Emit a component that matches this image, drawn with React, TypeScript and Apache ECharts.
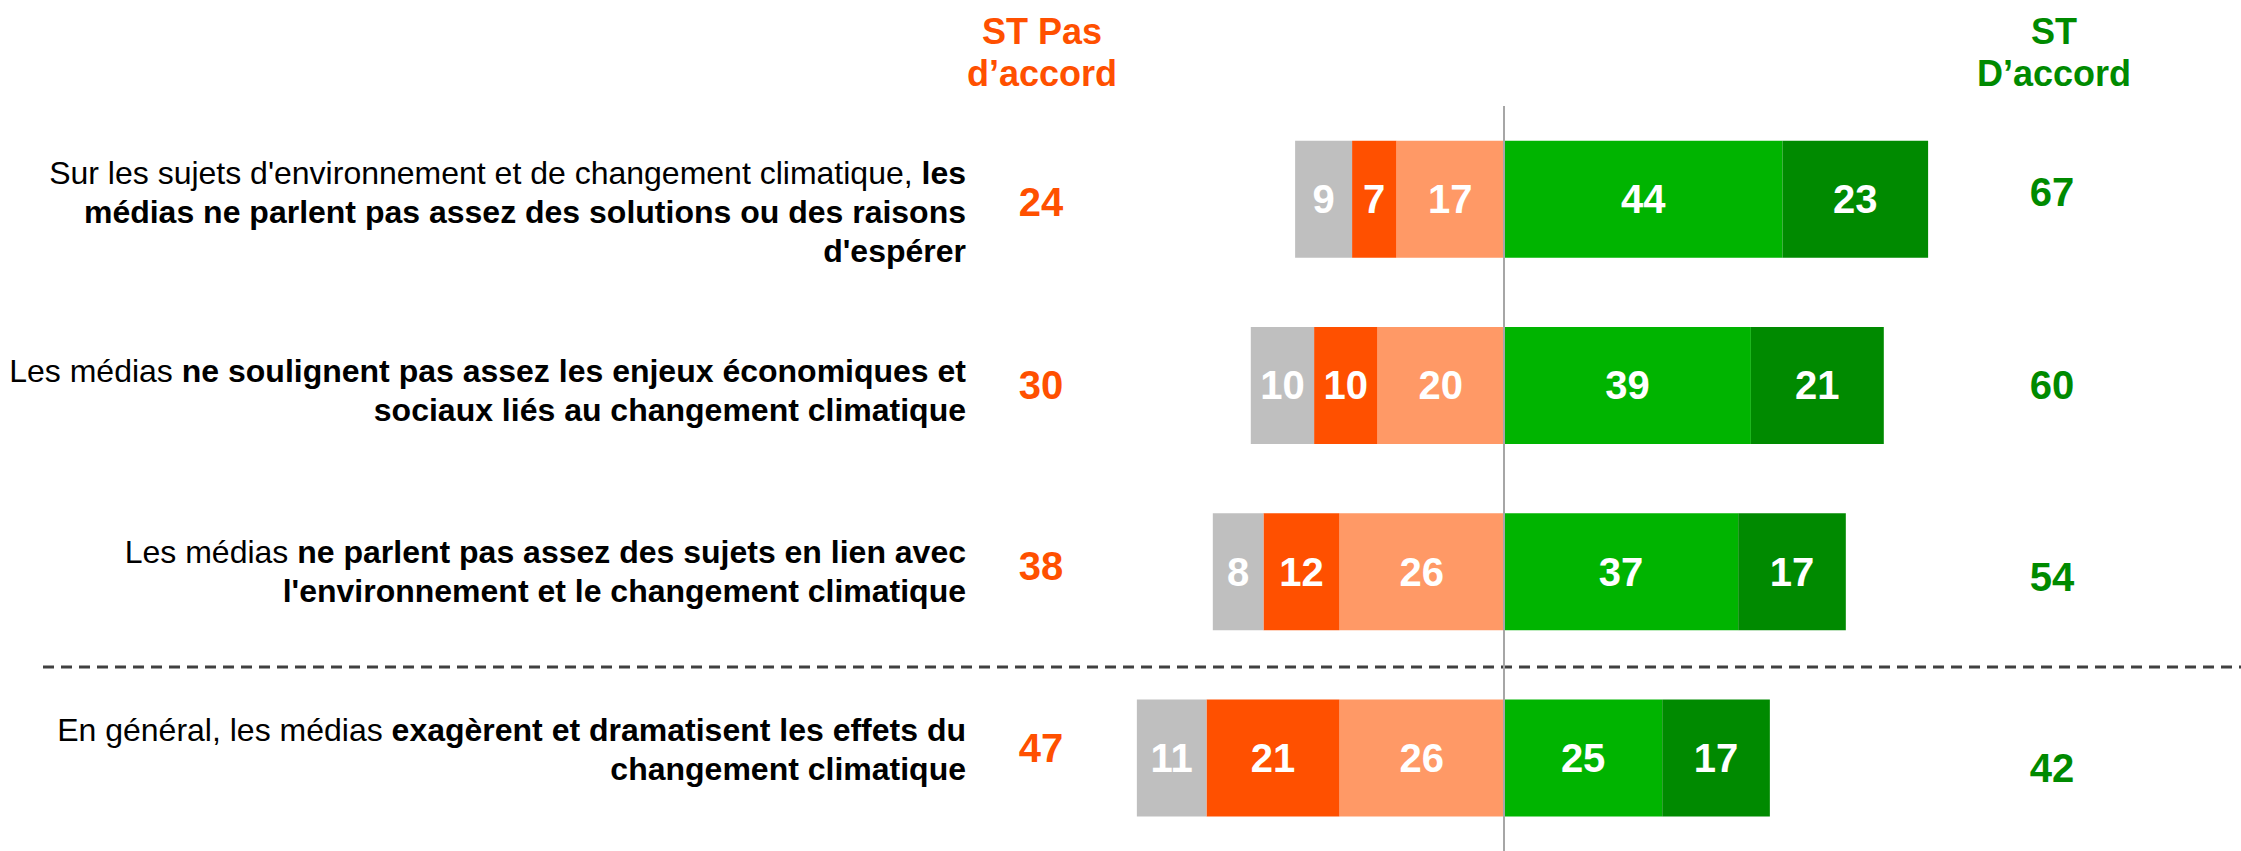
import React, { useEffect, useRef } from "react";
import * as echarts from "echarts";

// Statements: each line is a list of [text, bold] segments
const statements: [string, boolean][][][] = [
  [
    [["Sur les sujets d'environnement et de changement climatique, ", false], ["les", true]],
    [["médias ne parlent pas assez des solutions ou des raisons", true]],
    [["d'espérer", true]],
  ],
  [
    [["Les médias ", false], ["ne soulignent pas assez les enjeux économiques et", true]],
    [["sociaux liés au changement climatique", true]],
  ],
  [
    [["Les médias ", false], ["ne parlent pas assez des sujets en lien avec", true]],
    [["l'environnement et le changement climatique", true]],
  ],
  [
    [["En général, les médias ", false], ["exagèrent et dramatisent les effets du", true]],
    [["changement climatique", true]],
  ],
];
const categories = ["S1", "S2", "S3", "S4"];

const nsp = [9, 10, 8, 11];
const pasDuTout = [7, 10, 12, 21];
const plutotPas = [17, 20, 26, 26];
const plutot = [44, 39, 37, 25];
const toutAFait = [23, 21, 17, 17];
const stPas = [24, 30, 38, 47];
const stAccord = [67, 60, 54, 42];

const headerPas = "ST Pas\nd’accord";
const headerAccord = "ST\nD’accord";

// small per-row vertical nudges (px) for the text columns
const stmtShift = [13, 5, 0, -8];
const leftShift = [3, 0, -6, -10];
const rightShift = [-7, 0, 5, 10];

const FONT = "'Liberation Sans', Arial, Helvetica, sans-serif";
const ORANGE = "#ff5000";
const GREEN = "#008a00";

function pad(d: number) {
  return d >= 0 ? [2 * d, 0, 0, 0] : [0, 0, -2 * d, 0];
}

export default function App() {
  const ref = useRef<HTMLDivElement>(null);
  useEffect(() => {
    if (!ref.current) return;
    const chart = echarts.init(ref.current, undefined, { renderer: "svg" });
    const pxPerUnit = 6.33;
    const zeroX = 1504;
    const xMin = -80;
    const xMax = 80;
    const gridLeft = zeroX + xMin * pxPerUnit;
    const gridWidth = (xMax - xMin) * pxPerUnit;

    const stmtRich: any = {
      n: { fontSize: 32, fontFamily: FONT, color: "#000", lineHeight: 39, align: "right" },
      b: { fontSize: 32, fontFamily: FONT, color: "#000", fontWeight: "bold", lineHeight: 39, align: "right" },
    };
    stmtShift.forEach((s, i) => {
      if (s !== 0) stmtRich["sp" + i] = { fontSize: 1, lineHeight: Math.abs(s) * 2, align: "right" };
    });
    const numRich = (color: string, shifts: number[], prefix: string) => {
      const r: any = {};
      shifts.forEach((s, i) => {
        r[prefix + i] = {
          fontSize: 40,
          fontWeight: "bold",
          fontFamily: FONT,
          color,
          padding: pad(s),
          align: "center",
        };
      });
      return r;
    };

    const barLabel = {
      show: true,
      position: "inside",
      color: "#fff",
      fontSize: 40,
      fontWeight: "bold",
      fontFamily: FONT,
      formatter: (p: any) => String(Math.abs(p.value)),
    };
    const mk = (name: string, data: number[], color: string, sign: number, extra: any = {}) => ({
      name,
      type: "bar",
      stack: "total",
      yAxisIndex: 0,
      barWidth: 117,
      data: data.map((v) => sign * v),
      itemStyle: { color },
      label: barLabel,
      ...extra,
    });

    chart.setOption({
      animation: false,
      textStyle: { fontFamily: FONT },
      grid: { left: gridLeft, width: gridWidth, top: 106, height: 750 },
      xAxis: { type: "value", min: xMin, max: xMax, show: false },
      yAxis: [
        {
          type: "category",
          data: categories,
          inverse: true,
          position: "left",
          axisLine: { show: false },
          axisTick: { show: false },
          splitLine: { show: false },
          axisLabel: {
            margin: gridLeft - 966,
            align: "right",
            formatter: (_v: string, i: number) => {
              const lines = statements[i].map((line) =>
                line.map(([t, b]) => `{${b ? "b" : "n"}|${t}}`).join("")
              );
              const s = stmtShift[i];
              if (s > 0) lines.unshift(`{sp${i}| }`);
              if (s < 0) lines.push(`{sp${i}| }`);
              return lines.join("\n");
            },
            rich: stmtRich,
          },
        },
        {
          type: "category",
          data: categories,
          inverse: true,
          position: "left",
          offset: -(1041 - gridLeft),
          axisLine: { show: false },
          axisTick: { show: false },
          axisLabel: {
            margin: 0,
            align: "center",
            formatter: (_v: string, i: number) => `{l${i}|${stPas[i]}}`,
            rich: numRich(ORANGE, leftShift, "l"),
          },
        },
        {
          type: "category",
          data: categories,
          inverse: true,
          position: "right",
          offset: 2052 - (gridLeft + gridWidth),
          axisLine: { show: false },
          axisTick: { show: false },
          axisLabel: {
            margin: 0,
            align: "center",
            formatter: (_v: string, i: number) => `{r${i}|${stAccord[i]}}`,
            rich: numRich(GREEN, rightShift, "r"),
          },
        },
      ],
      graphic: [
        {
          type: "line",
          z: 0,
          shape: { x1: 43, y1: 667, x2: 2241, y2: 667 },
          style: { stroke: "#404040", lineWidth: 3, lineDash: [11, 7] },
        },
        {
          type: "text",
          x: 1042,
          y: 52,
          style: {
            text: headerPas,
            fill: ORANGE,
            fontSize: 36,
            fontWeight: "bold",
            fontFamily: FONT,
            lineHeight: 42,
            align: "center",
            verticalAlign: "middle",
          },
        },
        {
          type: "text",
          x: 2054,
          y: 52,
          style: {
            text: headerAccord,
            fill: GREEN,
            fontSize: 36,
            fontWeight: "bold",
            fontFamily: FONT,
            lineHeight: 42,
            align: "center",
            verticalAlign: "middle",
          },
        },
      ],
      series: [
        mk("Plutôt pas d'accord", plutotPas, "#ff9966", -1, {
          markLine: {
            silent: true,
            symbol: ["none", "none"],
            label: { show: false },
            lineStyle: { color: "#a6a6a6", width: 2, type: "solid" },
            data: [{ xAxis: 0 }],
            z: 10,
          },
        }),
        mk("Pas du tout d'accord", pasDuTout, ORANGE, -1),
        mk("NSP", nsp, "#bfbfbf", -1),
        mk("Plutôt d'accord", plutot, "#00b400", 1),
        mk("Tout à fait d'accord", toutAFait, "#008a00", 1),
      ],
    });
    return () => chart.dispose();
  }, []);
  return (
    <div
      ref={ref}
      style={{ position: "fixed", left: 0, top: 0, width: 2241, height: 851, background: "#fff" }}
    />
  );
}
